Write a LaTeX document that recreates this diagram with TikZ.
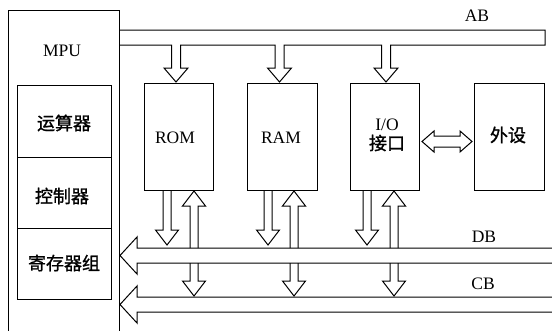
\documentclass[tikz,border=0pt]{standalone}
\usepackage{fontspec}
\setmainfont{Liberation Serif}
\newfontfamily\cjk[FakeBold=1.2]{Noto Sans CJK SC}
\newcommand\vdownarr[3]{\draw (#1-4,#2) -- (#1-4,#3-15) -- (#1-11.5,#3-15) -- (#1,#3) -- (#1+11.5,#3-15) -- (#1+4,#3-15) -- (#1+4,#2);}
\newcommand\vuparr[3]{\draw (#1-4,#2) -- (#1-4,#3+15) -- (#1-11.5,#3+15) -- (#1,#3) -- (#1+11.5,#3+15) -- (#1+4,#3+15) -- (#1+4,#2);}
\begin{document}
\begin{tikzpicture}[x=1pt,y=-1pt, line width=1pt, line join=miter,
  lat/.style={font=\fontsize{17.5}{18}\selectfont, inner sep=0pt},
  zh/.style={font=\fontsize{18}{19}\selectfont\cjk, inner sep=0pt},
  box/.style={draw, anchor=north west, inner sep=0pt, minimum height=107pt}]
\useasboundingbox (0,0) rectangle (552,330);

% MPU
\draw (8,331) -- (8,10) -- (119,10) -- (119,331);
\node[lat] (mpu) at (62,51) {MPU};
\draw (17,85) rectangle (111,299);
\draw (17,157) -- (111,157);
\draw (17,228) -- (111,228);
\node[zh] (alu) at (64,123) {运算器};
\node[zh] (ctl) at (62,196) {控制器};
\node[zh] (reg) at (64,263) {寄存器组};

% boxes
\node[box, minimum width=69pt] (rom) at (144,83) {};
\node[box, minimum width=70pt] (ram) at (247,83) {};
\node[box, minimum width=69pt] (io) at (350,83) {};
\node[box, minimum width=70pt] (ext) at (474,83) {};
\node[lat] (romt) at (175,138) {ROM};
\node[lat] (ramt) at (281,138) {RAM};
\node[lat] (iot) at (387,125) {I/O};
\node[zh] (iot2) at (387,143) {接口};
\node[zh] (extt) at (508,135) {外设};

% AB
\draw (119,30) -- (545,30) -- (545,45) -- (390.5,45) -- (390.5,68) -- (398,68) -- (386,82) -- (374,68) -- (381.5,68) -- (381.5,45)
  -- (284,45) -- (284,68) -- (291.5,68) -- (279.5,82) -- (267.5,68) -- (275,68) -- (275,45)
  -- (180.5,45) -- (180.5,68) -- (188,68) -- (176,82) -- (164,68) -- (171.5,68) -- (171.5,45) -- (119,45);
\node[lat] (ab) at (477,16) {AB};

% DB and CB
\draw (552,248) -- (137,248) -- (137,237) -- (120,255.5) -- (137,274) -- (137,263) -- (552,263);
\draw (552,297) -- (137,297) -- (137,286) -- (120,304.5) -- (137,323) -- (137,312) -- (552,312);
\node[lat] (db) at (484,237) {DB};
\node[lat] (cb) at (483,284) {CB};

% vertical arrows
\vdownarr{167}{190}{245}
\vuparr{194}{248}{191}
\vdownarr{194}{263}{296}
\vdownarr{268}{190}{245}
\vuparr{294}{248}{191}
\vdownarr{294}{263}{296}
\vdownarr{367}{190}{245}
\vuparr{394}{248}{191}
\vdownarr{394}{263}{296}

% I/O <-> peripheral
\draw (422,141.5) -- (434,131) -- (434,136) -- (460,136) -- (460,131) -- (472,141.5) -- (460,152) -- (460,147) -- (434,147) -- (434,152) -- cycle;
\end{tikzpicture}
\end{document}
